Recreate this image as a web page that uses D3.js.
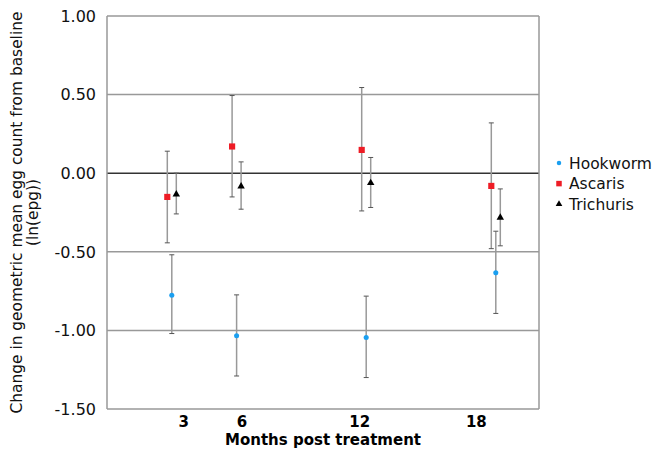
<!DOCTYPE html>
<html>
<head>
<meta charset="utf-8">
<script src="https://cdn.jsdelivr.net/npm/d3@7"></script>
<style>
  body { margin: 0; background: #fff; }
  svg { display: block; font-family: "DejaVu Sans", Verdana, sans-serif; }
</style>
</head>
<body>
<svg id="view"></svg>
<script>
// months after treatment
var months = [3, 6, 12, 18];

// change in ln(epg), with 95% CI bounds
var hookworm    = [-0.776, -1.034, -1.045, -0.634];
var hookwormLo  = [-1.02, -1.29, -1.30, -0.892];
var hookwormHi  = [-0.519, -0.774, -0.782, -0.369];

var ascaris     = [-0.151, 0.170, 0.148, -0.081];
var ascarisLo   = [-0.443, -0.151, -0.240, -0.480];
var ascarisHi   = [0.140, 0.494, 0.545, 0.320];

var trichuris   = [-0.134, -0.083, -0.062, -0.282];
var trichurisLo = [-0.259, -0.229, -0.218, -0.462];
var trichurisHi = [0.000, 0.072, 0.100, -0.100];

// axis labels (x labels sit where the original chart put them, in month units)
var xLabels  = ["3", "6", "12", "18"];
var xLabelAt = [3.55, 6.25, 11.7, 17.1];
var yTicks   = [1.0, 0.5, 0.0, -0.5, -1.0, -1.5];

var seriesNames = ["Hookworm", "Ascaris", "Trichuris"];

var W = 652, H = 451;
var margin = {left: 107, right: 113, top: 16, bottom: 42};

var svg = d3.select("#view").attr("width", W).attr("height", H);

var x = d3.scaleLinear().domain([0, 20]).range([margin.left, W - margin.right]);
var y = d3.scaleLinear().domain([-1.5, 1.0]).range([H - margin.bottom, margin.top]);

// gridlines
svg.append("g").selectAll("line")
	.data(yTicks)
	.join("line")
	.attr("x1", x(0)).attr("x2", x(20))
	.attr("y1", d => y(d)).attr("y2", d => y(d))
	.attr("stroke", d => d == 0 ? "#333" : "#999")
	.attr("stroke-width", 1.5);

// plot frame (left / right)
svg.append("g").selectAll("line")
	.data([0, 20])
	.join("line")
	.attr("x1", d => x(d)).attr("x2", d => x(d))
	.attr("y1", y(1.0)).attr("y2", y(-1.5))
	.attr("stroke", "#999")
	.attr("stroke-width", 1.5);

// y tick labels (plain hyphen, as in the original)
svg.append("g").selectAll("text")
	.data(yTicks)
	.join("text")
	.attr("x", x(0) - 11)
	.attr("y", d => y(d))
	.attr("dy", "0.36em")
	.attr("text-anchor", "end")
	.attr("font-size", 16)
	.attr("fill", "#111")
	.text(d => d.toFixed(2));

// x tick labels
svg.append("g").selectAll("text")
	.data(xLabels)
	.join("text")
	.attr("x", (d, i) => x(xLabelAt[i]))
	.attr("y", 427)
	.attr("text-anchor", "middle")
	.attr("font-size", 15)
	.attr("font-weight", "bold")
	.attr("fill", "#000")
	.text(d => d);

svg.append("text")
	.attr("x", (x(0) + x(20)) / 2)
	.attr("y", 445)
	.attr("text-anchor", "middle")
	.attr("font-size", 15)
	.attr("font-weight", "bold")
	.text("Months post treatment");

// y axis title, two lines
var yMid = (y(1.0) + y(-1.5)) / 2;
var ytitle = svg.append("text")
	.attr("transform", "translate(22," + yMid + ") rotate(-90)")
	.attr("text-anchor", "middle")
	.attr("font-size", 15.4)
	.attr("fill", "#111");
ytitle.append("tspan").attr("x", 0).attr("dy", 0).text("Change in geometric mean egg count from baseline");
ytitle.append("tspan").attr("x", 0).attr("dy", 16).text("(ln(epg))");

var series = [
	{ name: "Hookworm",  v: hookworm,  lo: hookwormLo,  hi: hookwormHi,  dx: 0,    color: "#1a9ff0", shape: d3.symbolCircle,   size: 20 },
	{ name: "Ascaris",   v: ascaris,   lo: ascarisLo,   hi: ascarisHi,   dx: -4.5, color: "#ee1c25", shape: d3.symbolSquare,   size: 38 },
	{ name: "Trichuris", v: trichuris, lo: trichurisLo, hi: trichurisHi, dx: 4.5,  color: "#000",    shape: d3.symbolTriangle, size: 24 }
];

series.forEach(s => {
	var g = svg.append("g");
	var pts = months.map((m, i) => ({ m: m, v: s.v[i], lo: s.lo[i], hi: s.hi[i] }));
	// whiskers
	g.selectAll("line.bar")
		.data(pts)
		.join("line")
		.attr("class", "bar")
		.attr("x1", d => x(d.m) + s.dx).attr("x2", d => x(d.m) + s.dx)
		.attr("y1", d => y(d.lo)).attr("y2", d => y(d.hi))
		.attr("stroke", "#999")
		.attr("stroke-width", 1.5);
	// caps
	["lo", "hi"].forEach(k => {
		g.selectAll("line.cap" + k)
			.data(pts)
			.join("line")
			.attr("class", "cap" + k)
			.attr("x1", d => x(d.m) + s.dx - 2.5).attr("x2", d => x(d.m) + s.dx + 2.5)
			.attr("y1", d => y(d[k])).attr("y2", d => y(d[k]))
			.attr("stroke", "#555")
			.attr("stroke-width", 1);
	});
	g.selectAll("path")
		.data(pts)
		.join("path")
		.attr("transform", d => "translate(" + (x(d.m) + s.dx) + "," + y(d.v) + ")")
		.attr("d", d3.symbol().type(s.shape).size(s.size))
		.attr("fill", s.color);
});

// legend
var legend = svg.append("g").attr("transform", "translate(559,163)");
var items = legend.selectAll("g")
	.data(series)
	.join("g")
	.attr("transform", (d, i) => "translate(0," + (i * 20.6) + ")");
items.append("path")
	.attr("d", d => d3.symbol().type(d.shape).size(d.size * 0.8)())
	.attr("fill", d => d.color);
items.append("text")
	.attr("x", 10)
	.attr("dy", "0.36em")
	.attr("font-size", 15.5)
	.attr("fill", "#111")
	.text(d => d.name);
</script>
</body>
</html>
